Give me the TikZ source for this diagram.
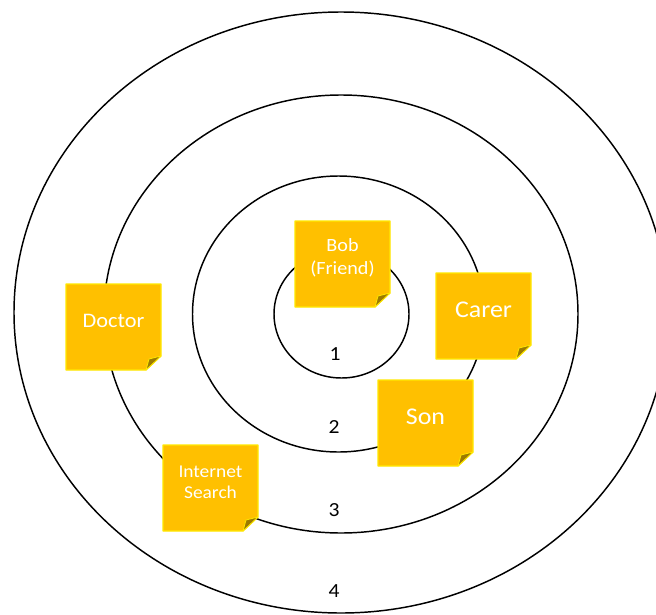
\documentclass[tikz,border=0pt]{standalone}
\usepackage{fontspec}
\setmainfont{Carlito}
\definecolor{notegold}{HTML}{FFC000}
\definecolor{noteedge}{HTML}{FFE800}
\definecolor{foldcol}{HTML}{9C7A00}
\tikzset{
  ring/.style={draw=black, line width=1.1pt},
  notebody/.style={fill=notegold, draw=noteedge, line width=0.9pt, line join=round},
  notefold/.style={fill=foldcol, draw=noteedge, line width=0.6pt, line join=round},
  notetext/.style={text=white, align=center, inner sep=0pt, xscale=1.08, transform shape},
  ringnum/.style={font=\fontsize{15}{18}\selectfont, text=black, inner sep=0pt, xscale=1.08, transform shape}
}
% #1 name, #2 left, #3 top, #4 font size, #5 baselineskip, #6 text
\newcommand\stickynote[6]{%
  \path[notebody] (#2,#3) -- ++(95,0) -- ++(0,72) -- ++(-15,14) -- ++(-80,0) -- cycle;
  \path[notefold] (#2+95,#3+72) -- (#2+80,#3+86) -- (#2+83,#3+75) -- cycle;
  \node[notetext, font=\fontsize{#4}{#5}\selectfont] (#1) at (#2+47.5,#3+37) {#6};
}
\begin{document}
\begin{tikzpicture}[x=0.75pt,y=-0.75pt]
  \useasboundingbox (0,0) rectangle (656,614);
  \clip (0,0) rectangle (656,614);
  \fill[white] (0,0) rectangle (656,614);
  % rings
  \draw[ring] (341,312.5) ellipse [x radius=327, y radius=300.5];
  \draw[ring] (341,314) ellipse [x radius=237, y radius=219];
  \draw[ring] (338.5,314) ellipse [x radius=146, y radius=138];
  \draw[ring] (341.5,314) ellipse [x radius=67.5, y radius=64];
  % ring numbers
  \node[ringnum] (n1) at (335,354) {1};
  \node[ringnum] (n2) at (334,427) {2};
  \node[ringnum] (n3) at (334,510) {3};
  \node[ringnum] (n4) at (334,591) {4};
  % sticky notes
  \stickynote{bob}{295}{221}{14}{17.5}{Bob\\(Friend)}
  \stickynote{carer}{436}{273}{18}{21}{Carer}
  \stickynote{doctor}{66}{284}{15.5}{18}{Doctor}
  \stickynote{son}{378}{380}{18}{21}{Son}
  \stickynote{internet}{163}{445}{13.5}{16}{Internet\\Search}
\end{tikzpicture}
\end{document}
